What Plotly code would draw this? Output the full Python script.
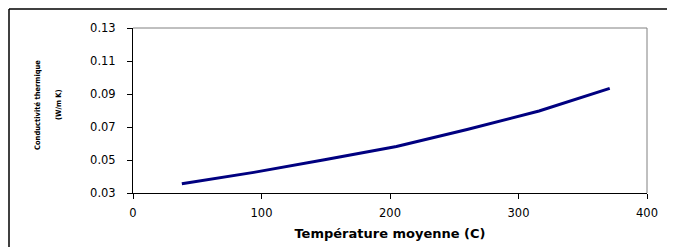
import plotly.graph_objects as go

temperature = [38, 94, 149, 205, 260, 316, 371]
conductivite = [0.0356, 0.0425, 0.0502, 0.0582, 0.0685, 0.0797, 0.0934]
x_ticks = [0, 100, 200, 300, 400]
y_ticks = [0.03, 0.05, 0.07, 0.09, 0.11, 0.13]
y_tick_text = ["0.03", "0.05", "0.07", "0.09", "0.11", "0.13"]

# page has an 8px body margin; work in page pixels and convert
OFF = 8
W, H = 675 - OFF, 247 - OFF
L, T = 133 - OFF, 28 - OFF
R = W - (647 - OFF)
B = H - (192.5 - OFF)
B = round(B)
pw, ph = W - L - R, H - T - B

def px(xpage):
    return (xpage - OFF - L) / pw

def py(ypage):
    return (H - B - (ypage - OFF)) / ph

fig = go.Figure()
fig.add_trace(go.Scatter(
    x=temperature, y=conductivite, mode="lines",
    line=dict(color="#000080", width=3),
    hoverinfo="skip", showlegend=False,
))

tickfont = dict(family="DejaVu Sans, Liberation Sans, Arial", size=11.5, color="black")

fig.update_layout(
    width=W, height=H,
    margin=dict(l=L, r=R, t=T, b=B, pad=0, autoexpand=False),
    paper_bgcolor="white", plot_bgcolor="white",
    showlegend=False,
    xaxis=dict(
        range=[0, 400], tickvals=x_ticks, ticktext=[str(v) for v in x_ticks],
        showgrid=False, zeroline=False, automargin=False,
        showline=True, linecolor="black", linewidth=1,
        ticks="outside", ticklen=5, tickcolor="black", tickwidth=1,
        tickfont=tickfont, ticklabelstandoff=4,
        title=dict(text="Température moyenne (C)",
                   font=dict(family="DejaVu Sans, Liberation Sans, Arial", size=13,
                             color="black", weight="bold"),
                   standoff=10),
    ),
    yaxis=dict(
        range=[0.03, 0.13], tickvals=y_ticks, ticktext=y_tick_text,
        showgrid=False, zeroline=False, automargin=False,
        showline=True, linecolor="black", linewidth=1,
        ticks="outside", ticklen=5, tickcolor="black", tickwidth=1,
        tickfont=tickfont, ticklabelstandoff=9,
    ),
    shapes=[
        dict(type="line", xref="paper", yref="paper", x0=0, x1=1, y0=1, y1=1,
             line=dict(color="#808080", width=1)),
        dict(type="line", xref="paper", yref="paper", x0=1, x1=1, y0=0, y1=1,
             line=dict(color="#808080", width=1)),
        # outer chart border (top and left visible)
        dict(type="line", xref="paper", yref="paper", x0=px(9), x1=px(700), y0=py(9), y1=py(9),
             line=dict(color="black", width=1.5)),
        dict(type="line", xref="paper", yref="paper", x0=px(9), x1=px(9), y0=py(9), y1=py(260),
             line=dict(color="black", width=1.5)),
    ],
    annotations=[
        dict(text="<b>Conductivité thermique</b>", xref="paper", yref="paper",
             x=px(37), y=py(105), textangle=-90, showarrow=False,
             font=dict(family="Liberation Sans Narrow, DejaVu Sans Condensed, Liberation Sans", size=7.5,
                       color="black"),
             xanchor="center", yanchor="middle"),
        dict(text="<b>(W/m K)</b>", xref="paper", yref="paper",
             x=px(58), y=py(105), textangle=-90, showarrow=False,
             font=dict(family="Liberation Sans Narrow, DejaVu Sans Condensed, Liberation Sans", size=7.5,
                       color="black"),
             xanchor="center", yanchor="middle"),
    ],
)

fig.write_html("out.html")
